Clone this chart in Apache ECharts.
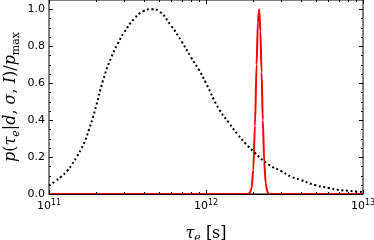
<!DOCTYPE html>
<html><head><meta charset="utf-8">
<script src="https://cdn.jsdelivr.net/npm/echarts@6/dist/echarts.min.js"></script>
<style>html,body{margin:0;padding:0;background:#fff}#c{width:374px;height:240px}</style>
</head><body><div id="c"></div>
<script>
// Broad (dotted) posterior
const tauBroad = [1.0e11,1.1e11,1.2e11,1.3e11,1.4e11,1.5e11,1.6e11,1.7e11,1.8e11,1.9e11,2.0e11,2.2e11,2.5e11,2.75e11,3.0e11,3.5e11,4.0e11,4.5e11,5.0e11,6.0e11,7.0e11,8.0e11,9.0e11,1.0e12,1.2e12,1.4e12,1.6e12,1.8e12,2.0e12,2.5e12,3.0e12,3.5e12,4.0e12,5.0e12,6.0e12,7.0e12,8.0e12,9.0e12,1.0e13];
const pBroad   = [0.045,0.07,0.095,0.124,0.16,0.2,0.243,0.29,0.35,0.412,0.478,0.61,0.743,0.815,0.872,0.95,0.99,1.0,0.99,0.91,0.825,0.742,0.673,0.60,0.465,0.385,0.32,0.27,0.231,0.16,0.125,0.093,0.076,0.047,0.033,0.022,0.018,0.014,0.011];
// Narrow (red) posterior
const tauNarrow = [1e11,1.85e12,1.9e12,1.95e12,2.0e12,2.05e12,2.1e12,2.14e12,2.18e12,2.22e12,2.26e12,2.3e12,2.35e12,2.4e12,2.45e12,2.5e12,1e13];
const pNarrow   = [0,0,0.005,0.03,0.13,0.37,0.70,0.93,1.00,0.88,0.66,0.40,0.17,0.06,0.016,0,0];
// Ticks
const xMajorTicks = [1e11,1e12,1e13];
const xMinorTicks = [2e11,3e11,4e11,5e11,6e11,7e11,8e11,9e11,2e12,3e12,4e12,5e12,6e12,7e12,8e12,9e12];
const yMajorTicks = [0,0.2,0.4,0.6,0.8,1.0];
const yMinorTicks = [0.05,0.1,0.15,0.25,0.3,0.35,0.45,0.5,0.55,0.65,0.7,0.75,0.85,0.9,0.95];

const tickRows = [];
xMajorTicks.forEach(v => tickRows.push([v, 0.5, 0]));
xMinorTicks.forEach(v => tickRows.push([v, 0.5, 1]));
yMajorTicks.forEach(v => tickRows.push([1e12, v, 2]));
yMinorTicks.forEach(v => tickRows.push([1e12, v, 3]));

function renderTicks(params, api) {
  const cs = params.coordSys;
  const kind = api.value(2);
  const len = (kind % 2 === 0) ? 4 : 2;
  const st = {stroke: '#000', lineWidth: 1};
  const ch = [];
  if (kind < 2) {
    const x = Math.round(api.coord([api.value(0), api.value(1)])[0]) + 0.5;
    const yb = cs.y + cs.height, yt = cs.y;
    ch.push({type: 'line', shape: {x1: x, y1: yb, x2: x, y2: yb - len}, style: st});
    ch.push({type: 'line', shape: {x1: x, y1: yt, x2: x, y2: yt + len}, style: st});
  } else {
    const y = Math.round(api.coord([api.value(0), api.value(1)])[1]) + 0.5;
    const xl = cs.x, xr = cs.x + cs.width;
    ch.push({type: 'line', shape: {x1: xl, y1: y, x2: xl + len, y2: y}, style: st});
    ch.push({type: 'line', shape: {x1: xr, y1: y, x2: xr - len, y2: y}, style: st});
  }
  return {type: 'group', children: ch};
}

const serif = 'DejaVu Serif';
const chart = echarts.init(document.getElementById('c'), null, {renderer: 'canvas'});
chart.setOption({
  animation: false,
  grid: {left: 49, right: 11, top: 0, bottom: 46, containLabel: false, outerBoundsMode: 'none',
         show: true, borderColor: '#000', borderWidth: 1, backgroundColor: 'transparent'},
  xAxis: {
    type: 'log', logBase: 10, min: 1e11, max: 1e13, interval: 1, z: 5,
    axisLine: {show: true, lineStyle: {color: '#000', width: 1}},
    axisTick: {show: false}, splitLine: {show: false},
    axisLabel: {
      margin: 5, color: '#000', hideOverlap: false, alignMinLabel: 'center', alignMaxLabel: 'center',
      formatter: v => '{b|10}{s|' + Math.round(Math.log10(v)) + '}',
      rich: {
        b: {fontFamily: 'DejaVu Sans', fontSize: 11, lineHeight: 14, color: '#000'},
        s: {fontFamily: 'DejaVu Sans', fontSize: 8, lineHeight: 9, verticalAlign: 'top', color: '#000'}
      }
    },
    name: '{i|τ}{sub|e}{n| [s]}',
    nameLocation: 'middle', nameGap: 30, nameMoveOverlap: false,
    nameTextStyle: {
      fontFamily: serif, fontSize: 16, lineHeight: 20, color: '#000',
      rich: {
        i: {fontFamily: serif, fontStyle: 'italic', fontSize: 16, lineHeight: 20, color: '#000'},
        n: {fontFamily: serif, fontSize: 16, lineHeight: 20, color: '#000'},
        sub: {fontFamily: serif, fontStyle: 'italic', fontSize: 11, lineHeight: 11, verticalAlign: 'bottom', color: '#000'}
      }
    }
  },
  yAxis: {
    type: 'value', min: 0, max: 1.05, interval: 0.2,
    axisLine: {show: false}, axisTick: {show: false}, splitLine: {show: false},
    axisLabel: {
      margin: 4, color: '#000', fontFamily: 'DejaVu Sans', fontSize: 11,
      showMaxLabel: false,
      formatter: v => (v > 1.01 ? '' : v.toFixed(1))
    },
    name: '{i|p}{n|(}{i|τ}{sub|e}{n||}{i|d}{n|, }{i|σ}{n|, }{i|I}{n|)/}{i|p}{subr|max}',
    nameLocation: 'middle', nameRotate: 90, nameGap: 27, nameMoveOverlap: false,
    nameTextStyle: {
      fontFamily: serif, fontSize: 16, lineHeight: 22, color: '#000',
      rich: {
        i: {fontFamily: serif, fontStyle: 'italic', fontSize: 16, lineHeight: 22, color: '#000'},
        n: {fontFamily: serif, fontSize: 16, lineHeight: 22, color: '#000'},
        sub: {fontFamily: serif, fontStyle: 'italic', fontSize: 11, lineHeight: 12, verticalAlign: 'bottom', color: '#000'},
        subr: {fontFamily: serif, fontSize: 11, lineHeight: 12, verticalAlign: 'bottom', color: '#000'}
      }
    }
  },
  series: [
    {
      type: 'line', data: tauNarrow.map((t, i) => [t, pNarrow[i]]),
      showSymbol: false, smooth: 0.3, smoothMonotone: 'x', z: 2,
      lineStyle: {color: '#ff0000', width: 2}
    },
    {
      type: 'line', data: tauBroad.map((t, i) => [t, pBroad[i]]),
      showSymbol: false, smooth: 0.5, z: 3,
      lineStyle: {color: '#000', width: 2, type: [2, 2.6]}
    },
    {
      type: 'custom', data: tickRows, renderItem: renderTicks, silent: true, z: 6,
      encode: {x: 0, y: 1}
    }
  ]
});
</script></body></html>
